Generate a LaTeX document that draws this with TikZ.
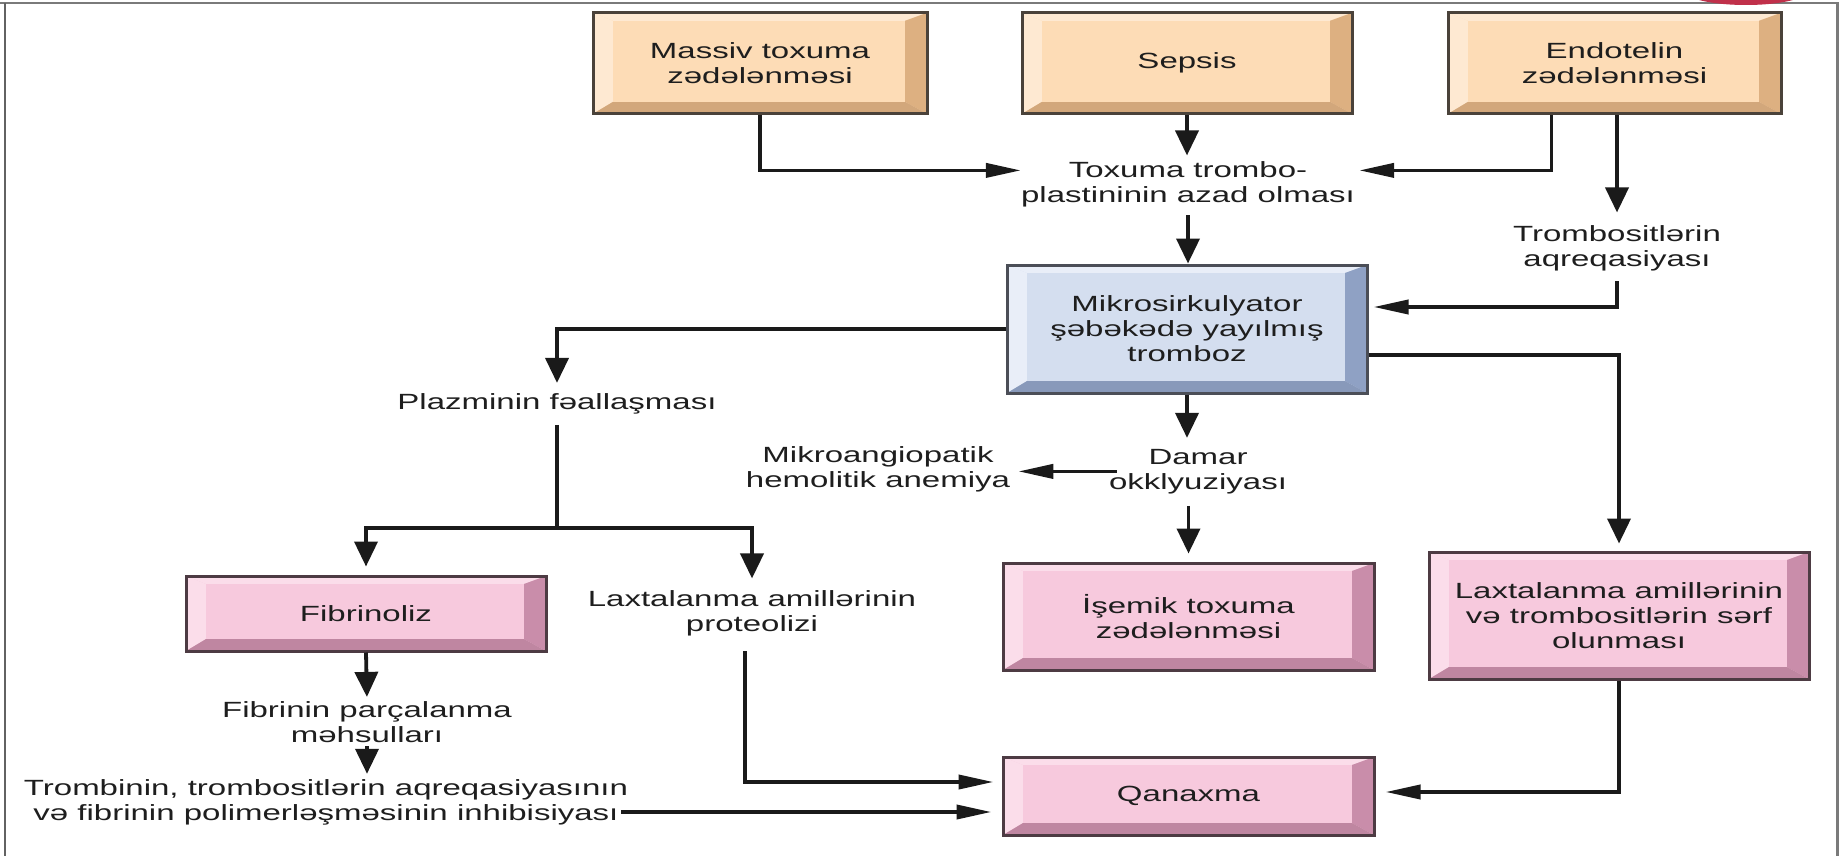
\documentclass[tikz,border=0pt]{standalone}
\usepackage{fontspec}
\setmainfont{Liberation Sans}[FakeStretch=1.5]
\usetikzlibrary{arrows.meta,calc}
\definecolor{txtc}{HTML}{1E1E1E}
\definecolor{linec}{HTML}{1A1A1A}
\definecolor{peachface}{HTML}{FDDCB6}
\definecolor{peachlight}{HTML}{FEE9D2}
\definecolor{peachdark}{HTML}{DDB081}
\definecolor{peachborder}{HTML}{4A423A}
\definecolor{blueface}{HTML}{D4DEEF}
\definecolor{bluelight}{HTML}{E9EEF8}
\definecolor{bluedark}{HTML}{8FA1C4}
\definecolor{blueborder}{HTML}{4B4E57}
\definecolor{pinkface}{HTML}{F7C9DD}
\definecolor{pinklight}{HTML}{FBDDEA}
\definecolor{pinkdark}{HTML}{C98DAA}
\definecolor{pinkborder}{HTML}{4D3B43}
\definecolor{framec}{HTML}{7A7A7A}
\definecolor{logored}{HTML}{C0304A}
\tikzset{
  every node/.style={font=\fontsize{22}{25}\selectfont, text=txtc},
  txtnode/.style={align=center, inner sep=0pt},
  bevbox/.style n args={4}{rectangle, align=center, inner sep=0pt,
    draw=#4, line width=3pt, fill=#1,
    path picture={
      \def\pb{path picture bounding box}
      \fill[#2] (\pb.north west) -- (\pb.north east) -- ([shift={(-22pt,-8pt)}]\pb.north east) -- ([shift={(20pt,-8pt)}]\pb.north west) -- cycle;
      \fill[#2] (\pb.north west) -- ([shift={(20pt,-8pt)}]\pb.north west) -- ([shift={(20pt,12pt)}]\pb.south west) -- (\pb.south west) -- cycle;
      \fill[#3] (\pb.north east) -- (\pb.south east) -- ([shift={(-22pt,12pt)}]\pb.south east) -- ([shift={(-22pt,-8pt)}]\pb.north east) -- cycle;
      \fill[#3!95!black] (\pb.south west) -- (\pb.south east) -- ([shift={(-22pt,12pt)}]\pb.south east) -- ([shift={(20pt,12pt)}]\pb.south west) -- cycle;
      \fill[#1] ([shift={(20pt,-8pt)}]\pb.north west) rectangle ([shift={(-22pt,12pt)}]\pb.south east);
    }},
  peachbox/.style={bevbox={peachface}{peachlight}{peachdark}{peachborder}},
  bluebox/.style={bevbox={blueface}{bluelight}{bluedark}{blueborder}},
  pinkbox/.style={bevbox={pinkface}{pinklight}{pinkdark}{pinkborder}},
  conn/.style={line width=3.8pt, draw=linec},
  varr/.style={conn, -{Triangle[length=25pt,width=23pt]}},
  harr/.style={conn, -{Triangle[length=35pt,width=14pt]}}
}
\begin{document}
\begin{tikzpicture}[x=1pt,y=-1pt]
\useasboundingbox (0,0) rectangle (1839,856);
\fill[white] (0,0) rectangle (1839,856);
% frame
\draw[framec, line width=2pt] (0,3) -- (1839,3);
\draw[framec!80!black, line width=2pt] (5,3) -- (5,856);
\draw[framec, line width=3pt] (1837,3) -- (1837,856);
\begin{scope}
  \clip (0,0) rectangle (1839,5);
  \fill[logored] (1746,-10) ellipse [x radius=63pt, y radius=15pt];
\end{scope}

% boxes
\node[peachbox, minimum width=334pt, minimum height=101pt] (massiv) at (760,63.3) {Massiv toxuma\\zədələnməsi};
\node[peachbox, minimum width=330pt, minimum height=101pt] (sepsis) at (1187,63.3) {Sepsis};
\node[peachbox, minimum width=333pt, minimum height=101pt] (endo) at (1614.5,63.3) {Endotelin\\zədələnməsi};
\node[bluebox, minimum width=360pt, minimum height=128pt] (mikro) at (1187,329) {Mikrosirkulyator\\şəbəkədə yayılmış\\tromboz};
\node[pinkbox, minimum width=360pt, minimum height=75pt] (fibr) at (366,613.5) {Fibrinoliz};
\node[pinkbox, minimum width=371pt, minimum height=107pt] (isemik) at (1188.5,616.5) {İşemik toxuma\\zədələnməsi};
\node[pinkbox, minimum width=380pt, minimum height=127pt] (laxtR) at (1619,615.5) {Laxtalanma amillərinin\\və trombositlərin sərf\\olunması};
\node[pinkbox, minimum width=371pt, minimum height=78pt] (qan) at (1188.5,796) {Qanaxma};

% free texts
\node[txtnode] (toxtr) at (1188,184.4) {Toxuma trombo-\\plastininin azad olması};
\node[txtnode] (tromb) at (1617,248.4) {Trombositlərin\\aqreqasiyası};
\node[txtnode] (plaz) at (557,403.4) {Plazminin fəallaşması};
\node[txtnode] (damar) at (1198,471.4) {Damar\\okklyuziyası};
\node[txtnode] (mikroang) at (878,468.9) {Mikroangiopatik\\hemolitik anemiya};
\node[txtnode] (laxtprot) at (752,613.4) {Laxtalanma amillərinin\\proteolizi};
\node[txtnode] (fibpar) at (367,721.7) {Fibrinin parçalanma\\məhsulları};
\node[txtnode] (tromin) at (326,802.8) {Trombinin, trombositlərin aqreqasiyasının\\və fibrinin polimerləşməsinin inhibisiyası};

% connectors
\draw[harr] (massiv.south) |- ([yshift=14pt]toxtr.west);
\draw[varr, shorten >=6pt] (sepsis.south) -- (sepsis.south |- toxtr.north);
\draw[harr, shorten >=4pt] ([xshift=-63pt]endo.south) |- ([yshift=14pt]toxtr.east);
\draw[varr, shorten >=13pt] (endo.south -| tromb.north) -- (tromb.north);
\draw[varr, shorten <=8pt] (toxtr.south) -- (toxtr.south |- mikro.north);
\draw[harr, shorten <=10pt, shorten >=5pt] (tromb.south) |- ([yshift=22pt]mikro.east);
\draw[varr, shorten >=10pt] (mikro.west) -| (plaz.north);
\draw[varr, shorten >=7pt] ([yshift=-26pt]mikro.east) -| (laxtR.north);
\draw[varr, shorten >=11pt] (mikro.south) -- (mikro.south |- damar.north);
\draw[harr, shorten <=-8pt, shorten >=8pt] (damar.west) -- (damar.west -| mikroang.east);
\draw[varr, shorten <=12pt, shorten >=8pt] (damar.south -| isemik.north) -- (isemik.north);
\coordinate (split) at (557,528);
\draw[conn, shorten <=11pt] (plaz.south) -- (split);
\draw[varr, shorten >=8pt] (split) -| (fibr.north);
\draw[varr, shorten >=12pt] (split) -| (laxtprot.north);
\draw[varr, shorten >=4pt] (fibr.south) -- (fibpar.north);
\draw[varr, shorten <=4pt, shorten >=6pt] (fibpar.south) -- (fibpar.south |- tromin.north);
\draw[harr, shorten <=15pt, shorten >=8pt] ([xshift=-7pt]laxtprot.south) |- ([yshift=14pt]qan.west);
\coordinate (qanlow) at ([yshift=-16pt]qan.west);
\draw[harr, shorten <=-7pt, shorten >=10pt] (tromin.east |- qanlow) -- (qanlow);
\draw[harr, shorten >=10pt] (laxtR.south) |- ([yshift=4pt]qan.east);
\end{tikzpicture}
\end{document}
